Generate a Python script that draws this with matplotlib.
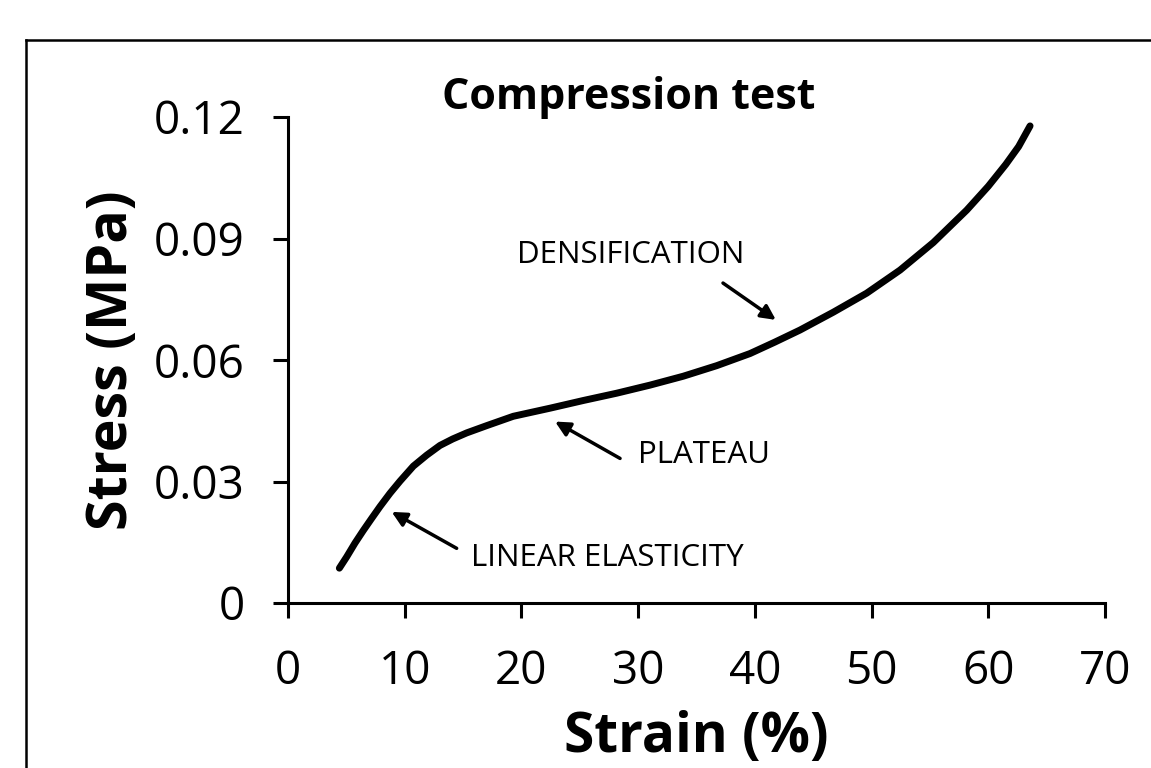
import matplotlib.pyplot as plt
import matplotlib.lines as mlines
import numpy as np

plt.rcParams['font.family'] = ['Open Sans', 'DejaVu Sans']

# stress-strain curve
strain = [4.40, 5.03, 5.74, 6.45, 7.17, 7.88, 8.74, 9.60, 10.74, 11.88, 13.02, 14.11,
          15.31, 17.03, 19.30, 22.45, 25.30, 28.16, 31.02, 33.87, 36.73, 39.59, 41.70,
          43.87, 46.72, 49.58, 52.44, 55.29, 58.15, 60.00, 61.50, 62.60, 63.58]
stress = [0.0086, 0.0114, 0.0148, 0.0179, 0.0209, 0.0238, 0.0271, 0.0301, 0.0338, 0.0365,
          0.0389, 0.0405, 0.0420, 0.0438, 0.0461, 0.0481, 0.0500, 0.0518, 0.0538, 0.0560,
          0.0586, 0.0616, 0.0644, 0.0674, 0.0718, 0.0765, 0.0822, 0.0890, 0.0970, 0.1029,
          0.1083, 0.1127, 0.1178]

xticks = [0, 10, 20, 30, 40, 50, 60, 70]
yticks = [0, 0.03, 0.06, 0.09, 0.12]
ytick_labels = ['0', '0.03', '0.06', '0.09', '0.12']

# (label, text position, arrow tail, arrow head, horizontal alignment)
notes = [
    ('DENSIFICATION', (29.4, 0.0859), (37.27, 0.079), (41.8, 0.0699), 'center'),
    ('PLATEAU', (30.0, 0.0365), (28.45, 0.0357), (22.88, 0.0448), 'left'),
    ('LINEAR ELASTICITY', (15.7, 0.0111), (14.45, 0.0135), (8.88, 0.0225), 'left'),
]

fig = plt.figure(figsize=(11.51, 7.68), dpi=100)
ax = fig.add_axes([288/1151, 1-603/768, (1105-288)/1151, (603-117)/768])

ax.plot(strain, stress, color='black', lw=5, solid_capstyle='round',
        solid_joinstyle='round')

ax.set_xlim(0, 70)
ax.set_ylim(0, 0.12)
ax.set_xticks(xticks)
ax.set_yticks(yticks)
ax.set_yticklabels(ytick_labels)
for s in ['top', 'right']:
    ax.spines[s].set_visible(False)
for s in ['left', 'bottom']:
    ax.spines[s].set_linewidth(2.2)
ax.tick_params(axis='both', direction='out', length=11, width=2.2, labelsize=33)
ax.tick_params(axis='x', pad=22)
ax.tick_params(axis='y', pad=20)

ax.set_xlabel('Strain (%)', fontsize=39.5, fontweight='bold', labelpad=11)
ax.set_ylabel('Stress (MPa)', fontsize=40, fontweight='bold', labelpad=10)

ax.text(29.2, 0.1248, 'Compression test', fontsize=31, fontweight='bold',
        ha='center', va='center')

for label, txt, tail, head, ha in notes:
    ax.text(txt[0], txt[1], label, fontsize=22.5, ha=ha, va='center')
    ax.annotate('', xy=head, xytext=tail,
                arrowprops=dict(arrowstyle='-|>', color='black', lw=2.5,
                                mutation_scale=22, shrinkA=0, shrinkB=0))

# outer frame, cut off at the right and bottom
fig.add_artist(mlines.Line2D([26/1151, 1], [1-40/768, 1-40/768], color='black', lw=1.8))
fig.add_artist(mlines.Line2D([26/1151, 26/1151], [0, 1-40/768], color='black', lw=1.8))

fig.savefig('out.png', dpi=100)
